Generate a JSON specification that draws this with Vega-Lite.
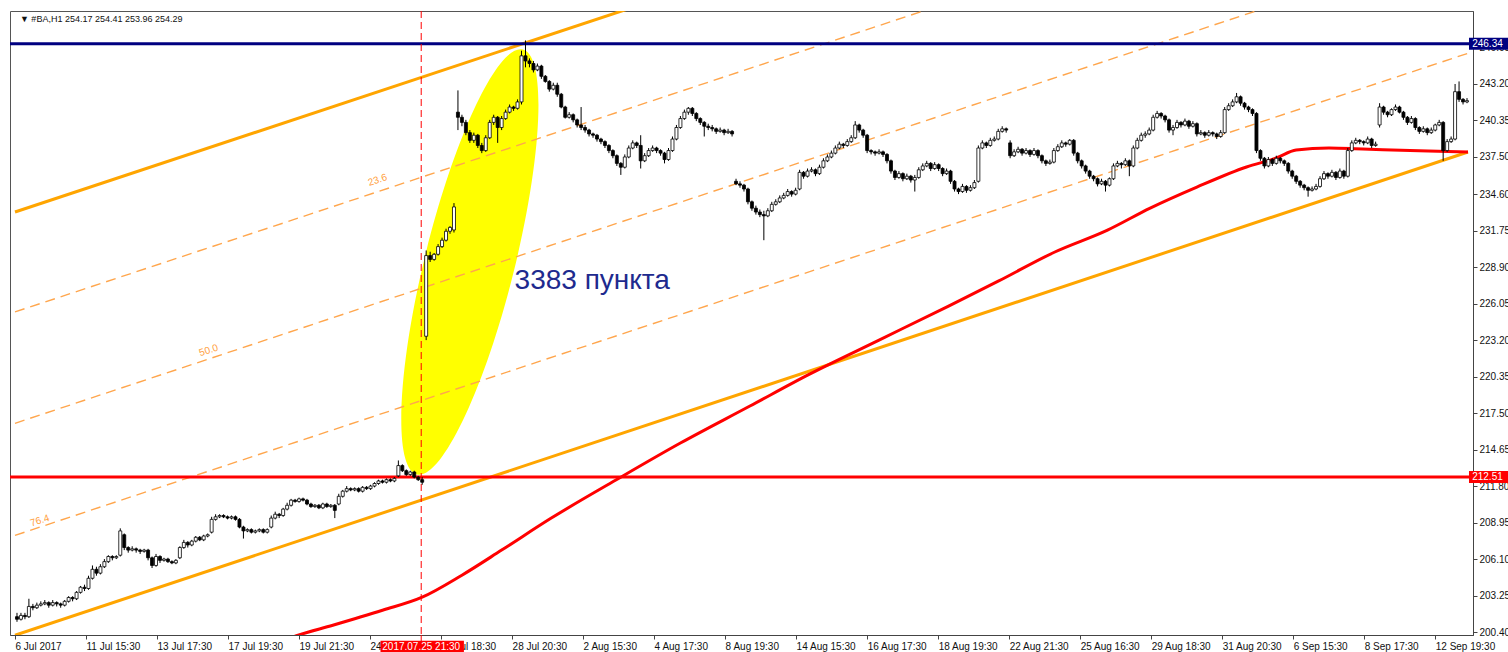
{
"$schema": "https://vega.github.io/schema/vega-lite/v6.json",
"width": 1463, "height": 624,
"autosize": {"type": "none"},
"padding": {"left": 10, "top": 11, "right": 35, "bottom": 17},
"background": "white",
"config": {"view": {"stroke": "#555", "strokeWidth": 1}, "axis": {"grid": false, "labelFont": "Liberation Sans", "labelFontSize": 10, "labelColor": "#111", "domainColor": "#444", "tickColor": "#444", "labelOverlap": false, "labelSeparation": 0}},
"datasets": {
"ellipse": [{"i": 114, "p": 229.3}],
"fib": [{"level": "23.6", "i": -0.5, "p": 225.4}, {"level": "23.6", "i": 365.25, "p": 263.0}, {"level": "50.0", "i": -0.5, "p": 216.7}, {"level": "50.0", "i": 365.25, "p": 254.4}, {"level": "76.4", "i": -0.5, "p": 207.95}, {"level": "76.4", "i": 365.25, "p": 245.6}],
"chan": [{"level": "0", "i": -0.5, "p": 233.2}, {"level": "0", "i": 365.25, "p": 270.8}, {"level": "100", "i": -0.5, "p": 200.15}, {"level": "100", "i": 365.25, "p": 237.89}],
"fibLabels": [{"t": "23.6", "i": 90.75, "p": 235.7}, {"t": "50.0", "i": 48.25, "p": 222.4}, {"t": "76.4", "i": 5.75, "p": 209.1}],
"ma": [{"i": 67, "p": 199.76}, {"i": 70.75, "p": 200.15}, {"i": 79.5, "p": 200.93}, {"i": 92, "p": 202.1}, {"i": 102, "p": 203.12}, {"i": 112, "p": 204.84}, {"i": 122, "p": 206.8}, {"i": 134.5, "p": 209.3}, {"i": 150.75, "p": 212.27}, {"i": 167, "p": 215.16}, {"i": 184.5, "p": 218.05}, {"i": 199.5, "p": 220.54}, {"i": 217, "p": 223.2}, {"i": 234.5, "p": 225.86}, {"i": 247, "p": 227.8}, {"i": 261.25, "p": 230.08}, {"i": 274.5, "p": 231.79}, {"i": 285.25, "p": 233.51}, {"i": 297, "p": 235.15}, {"i": 309.5, "p": 236.72}, {"i": 317, "p": 237.42}, {"i": 322, "p": 238.04}, {"i": 330.25, "p": 238.2}, {"i": 338.75, "p": 238.12}, {"i": 355.25, "p": 237.97}, {"i": 365.25, "p": 237.89}],
"levels": [{"p": 246.34, "t": "246.34", "kind": "high"}, {"p": 212.51, "t": "212.51", "kind": "low"}],
"event": [{"i": 101.75, "t": "2017.07.25 21:30"}],
"note": [{"i": 125.25, "p": 227.18, "t": "3383 пункта"}],
"head": [{"i": 0.75, "p": 248.04, "t": "▼ #BA,H1  254.17 254.41 253.96 254.29"}],
"candles": [
{"i":0,"o":201.6,"h":201.9,"l":201.2,"c":201.4},{"i":1,"o":201.4,"h":201.9,"l":201.3,"c":201.7},{"i":2,"o":201.7,"h":201.9,"l":201.4,"c":201.6},{"i":3,"o":201.6,"h":203.0,"l":201.5,"c":202.4},{"i":4,"o":202.4,"h":202.6,"l":202.1,"c":202.3},{"i":5,"o":202.3,"h":202.7,"l":202.2,"c":202.5},{"i":6,"o":202.5,"h":202.8,"l":202.4,"c":202.6},{"i":7,"o":202.6,"h":202.9,"l":202.5,"c":202.7},{"i":8,"o":202.7,"h":202.8,"l":202.3,"c":202.5},{"i":9,"o":202.5,"h":202.9,"l":202.4,"c":202.7},
{"i":10,"o":202.7,"h":202.8,"l":202.4,"c":202.6},{"i":11,"o":202.6,"h":202.7,"l":202.3,"c":202.5},{"i":12,"o":202.5,"h":202.9,"l":202.4,"c":202.8},{"i":13,"o":202.8,"h":203.2,"l":202.7,"c":203.1},{"i":14,"o":203.1,"h":203.2,"l":202.8,"c":203.0},{"i":15,"o":203.0,"h":203.6,"l":202.9,"c":203.5},{"i":16,"o":203.5,"h":204.0,"l":203.4,"c":203.9},{"i":17,"o":203.9,"h":204.1,"l":203.6,"c":203.8},{"i":18,"o":203.8,"h":204.8,"l":203.7,"c":204.6},{"i":19,"o":204.6,"h":205.6,"l":204.5,"c":205.3},
{"i":20,"o":205.3,"h":205.5,"l":204.8,"c":205.0},{"i":21,"o":205.0,"h":205.7,"l":204.9,"c":205.5},{"i":22,"o":205.5,"h":206.1,"l":205.4,"c":205.9},{"i":23,"o":205.9,"h":206.4,"l":205.8,"c":206.3},{"i":24,"o":206.3,"h":206.4,"l":206.0,"c":206.2},{"i":25,"o":206.2,"h":206.4,"l":206.1,"c":206.3},{"i":26,"o":206.4,"h":208.5,"l":206.3,"c":208.3},{"i":27,"o":208.0,"h":208.1,"l":206.8,"c":207.0},{"i":28,"o":207.0,"h":207.1,"l":206.6,"c":206.8},{"i":29,"o":206.8,"h":207.1,"l":206.7,"c":206.9},
{"i":30,"o":206.9,"h":207.0,"l":206.6,"c":206.8},{"i":31,"o":206.8,"h":206.9,"l":206.5,"c":206.7},{"i":32,"o":206.7,"h":206.9,"l":206.6,"c":206.8},{"i":33,"o":206.8,"h":206.9,"l":206.0,"c":206.2},{"i":34,"o":206.2,"h":206.3,"l":205.4,"c":205.6},{"i":35,"o":205.6,"h":206.5,"l":205.5,"c":206.3},{"i":36,"o":206.3,"h":206.4,"l":205.8,"c":206.0},{"i":37,"o":206.0,"h":206.2,"l":205.9,"c":206.1},{"i":38,"o":206.1,"h":206.2,"l":205.8,"c":205.9},{"i":39,"o":205.9,"h":206.0,"l":205.7,"c":205.8},
{"i":40,"o":205.8,"h":206.1,"l":205.7,"c":206.0},{"i":41,"o":206.2,"h":207.1,"l":206.1,"c":207.0},{"i":42,"o":207.0,"h":207.6,"l":206.9,"c":207.4},{"i":43,"o":207.4,"h":207.5,"l":207.0,"c":207.2},{"i":44,"o":207.2,"h":207.6,"l":207.1,"c":207.5},{"i":45,"o":207.5,"h":207.9,"l":207.4,"c":207.8},{"i":46,"o":207.8,"h":207.9,"l":207.5,"c":207.6},{"i":47,"o":207.6,"h":208.0,"l":207.5,"c":207.9},{"i":48,"o":207.9,"h":208.1,"l":207.8,"c":208.0},{"i":49,"o":208.2,"h":209.4,"l":208.1,"c":209.2},
{"i":50,"o":209.2,"h":209.6,"l":209.1,"c":209.4},{"i":51,"o":209.4,"h":209.6,"l":209.3,"c":209.5},{"i":52,"o":209.5,"h":209.6,"l":209.3,"c":209.4},{"i":53,"o":209.4,"h":209.5,"l":209.2,"c":209.3},{"i":54,"o":209.3,"h":209.5,"l":209.2,"c":209.4},{"i":55,"o":209.4,"h":209.5,"l":209.1,"c":209.2},{"i":56,"o":209.2,"h":209.3,"l":208.5,"c":208.6},{"i":57,"o":208.6,"h":208.7,"l":207.7,"c":208.3},{"i":58,"o":208.3,"h":208.5,"l":208.2,"c":208.4},{"i":59,"o":208.4,"h":208.5,"l":208.1,"c":208.2},
{"i":60,"o":208.2,"h":208.4,"l":208.1,"c":208.3},{"i":61,"o":208.3,"h":208.5,"l":208.2,"c":208.4},{"i":62,"o":208.4,"h":208.5,"l":208.1,"c":208.2},{"i":63,"o":208.2,"h":208.5,"l":208.1,"c":208.4},{"i":64,"o":208.6,"h":209.5,"l":208.5,"c":209.3},{"i":65,"o":209.3,"h":209.8,"l":209.2,"c":209.6},{"i":66,"o":209.6,"h":209.7,"l":209.3,"c":209.5},{"i":67,"o":209.5,"h":210.1,"l":209.4,"c":210.0},{"i":68,"o":210.0,"h":210.5,"l":209.9,"c":210.3},{"i":69,"o":210.3,"h":210.8,"l":210.2,"c":210.7},
{"i":70,"o":210.7,"h":210.8,"l":210.5,"c":210.6},{"i":71,"o":210.6,"h":210.9,"l":210.5,"c":210.8},{"i":72,"o":210.8,"h":210.9,"l":210.6,"c":210.7},{"i":73,"o":210.7,"h":210.8,"l":210.3,"c":210.4},{"i":74,"o":210.4,"h":210.5,"l":210.1,"c":210.2},{"i":75,"o":210.2,"h":210.4,"l":210.1,"c":210.3},{"i":76,"o":210.3,"h":210.4,"l":210.0,"c":210.1},{"i":77,"o":210.1,"h":210.5,"l":210.0,"c":210.4},{"i":78,"o":210.4,"h":210.5,"l":210.1,"c":210.2},{"i":79,"o":210.2,"h":210.4,"l":210.1,"c":210.3},
{"i":80,"o":210.3,"h":210.4,"l":209.3,"c":209.9},{"i":81,"o":210.4,"h":211.2,"l":210.3,"c":211.0},{"i":82,"o":211.0,"h":211.5,"l":210.9,"c":211.4},{"i":83,"o":211.4,"h":211.8,"l":211.3,"c":211.6},{"i":84,"o":211.6,"h":211.7,"l":211.4,"c":211.5},{"i":85,"o":211.5,"h":211.7,"l":211.4,"c":211.6},{"i":86,"o":211.6,"h":211.7,"l":211.3,"c":211.4},{"i":87,"o":211.4,"h":211.8,"l":211.3,"c":211.7},{"i":88,"o":211.7,"h":211.8,"l":211.5,"c":211.6},{"i":89,"o":211.6,"h":211.9,"l":211.5,"c":211.8},
{"i":90,"o":211.8,"h":212.1,"l":211.7,"c":212.0},{"i":91,"o":212.0,"h":212.3,"l":211.9,"c":212.2},{"i":92,"o":212.2,"h":212.3,"l":212.0,"c":212.1},{"i":93,"o":212.1,"h":212.4,"l":212.0,"c":212.3},{"i":94,"o":212.3,"h":212.4,"l":212.1,"c":212.2},{"i":95,"o":212.2,"h":212.5,"l":212.1,"c":212.4},{"i":96,"o":212.6,"h":213.8,"l":212.5,"c":213.4},{"i":97,"o":213.4,"h":213.5,"l":212.9,"c":213.0},{"i":98,"o":213.0,"h":213.1,"l":212.6,"c":212.7},{"i":99,"o":212.7,"h":213.0,"l":212.6,"c":212.9},
{"i":100,"o":212.9,"h":213.0,"l":212.4,"c":212.5},{"i":101,"o":212.5,"h":212.6,"l":212.2,"c":212.3},{"i":102,"o":212.3,"h":212.5,"l":211.9,"c":212.1},{"i":103,"o":223.5,"h":230.2,"l":223.2,"c":229.8},{"i":104,"o":229.8,"h":230.1,"l":229.3,"c":229.5},{"i":105,"o":229.5,"h":230.0,"l":229.4,"c":229.9},{"i":106,"o":229.9,"h":230.7,"l":229.8,"c":230.5},{"i":107,"o":230.5,"h":231.2,"l":230.4,"c":231.0},{"i":108,"o":231.0,"h":231.9,"l":230.9,"c":231.7},{"i":109,"o":231.7,"h":232.1,"l":231.5,"c":232.0},
{"i":110,"o":231.8,"h":233.9,"l":231.6,"c":233.6},{"i":111,"o":241.0,"h":242.7,"l":239.6,"c":240.6},{"i":112,"o":240.6,"h":240.8,"l":239.9,"c":240.2},{"i":113,"o":240.2,"h":240.4,"l":239.2,"c":239.4},{"i":114,"o":239.4,"h":239.6,"l":238.6,"c":238.8},{"i":115,"o":238.8,"h":239.4,"l":238.6,"c":239.2},{"i":116,"o":239.2,"h":239.3,"l":238.2,"c":238.4},{"i":117,"o":238.4,"h":238.6,"l":237.8,"c":238.0},{"i":118,"o":238.0,"h":239.2,"l":237.9,"c":239.0},{"i":119,"o":239.0,"h":240.4,"l":238.9,"c":240.2},
{"i":120,"o":240.2,"h":240.8,"l":240.0,"c":240.6},{"i":121,"o":240.6,"h":240.7,"l":238.6,"c":239.8},{"i":122,"o":239.8,"h":240.7,"l":239.6,"c":240.5},{"i":123,"o":240.5,"h":241.2,"l":240.4,"c":241.0},{"i":124,"o":241.0,"h":241.6,"l":240.9,"c":241.4},{"i":125,"o":241.4,"h":241.5,"l":241.1,"c":241.3},{"i":126,"o":241.3,"h":242.0,"l":241.2,"c":241.8},{"i":127,"o":241.8,"h":245.8,"l":241.6,"c":245.4},{"i":128,"o":245.4,"h":246.6,"l":244.5,"c":245.0},{"i":129,"o":245.0,"h":245.2,"l":244.5,"c":244.8},
{"i":130,"o":244.8,"h":245.0,"l":244.1,"c":244.3},{"i":131,"o":244.3,"h":244.8,"l":244.2,"c":244.6},{"i":132,"o":244.6,"h":244.7,"l":243.6,"c":243.8},{"i":133,"o":243.8,"h":243.9,"l":243.3,"c":243.4},{"i":134,"o":243.4,"h":243.5,"l":242.6,"c":242.8},{"i":135,"o":242.8,"h":243.3,"l":242.7,"c":243.1},{"i":136,"o":243.1,"h":243.3,"l":242.2,"c":242.4},{"i":137,"o":242.4,"h":242.5,"l":241.3,"c":241.4},{"i":138,"o":241.4,"h":241.5,"l":240.5,"c":240.6},{"i":139,"o":240.6,"h":241.0,"l":240.5,"c":240.8},
{"i":140,"o":240.8,"h":240.9,"l":240.2,"c":240.4},{"i":141,"o":240.4,"h":240.5,"l":239.8,"c":240.0},{"i":142,"o":240.0,"h":241.4,"l":239.6,"c":239.8},{"i":143,"o":239.8,"h":240.0,"l":239.4,"c":239.6},{"i":144,"o":239.6,"h":239.7,"l":239.1,"c":239.3},{"i":145,"o":239.3,"h":239.4,"l":239.0,"c":239.2},{"i":146,"o":239.2,"h":239.3,"l":238.7,"c":238.9},{"i":147,"o":238.9,"h":239.0,"l":238.5,"c":238.7},{"i":148,"o":238.7,"h":238.8,"l":238.2,"c":238.4},{"i":149,"o":238.4,"h":238.5,"l":237.8,"c":238.0},
{"i":150,"o":238.0,"h":238.1,"l":237.4,"c":237.6},{"i":151,"o":237.6,"h":237.7,"l":236.8,"c":237.0},{"i":152,"o":237.0,"h":237.1,"l":236.1,"c":236.7},{"i":153,"o":236.7,"h":237.7,"l":236.6,"c":237.5},{"i":154,"o":237.5,"h":238.4,"l":237.4,"c":238.2},{"i":155,"o":238.2,"h":238.8,"l":238.1,"c":238.6},{"i":156,"o":238.6,"h":238.7,"l":238.2,"c":238.4},{"i":157,"o":238.4,"h":239.2,"l":236.6,"c":237.2},{"i":158,"o":237.2,"h":237.8,"l":237.1,"c":237.6},{"i":159,"o":237.6,"h":238.2,"l":237.5,"c":238.0},
{"i":160,"o":238.0,"h":238.4,"l":237.9,"c":238.2},{"i":161,"o":238.2,"h":238.3,"l":237.8,"c":238.0},{"i":162,"o":238.0,"h":238.1,"l":237.6,"c":237.8},{"i":163,"o":237.8,"h":237.9,"l":237.0,"c":237.3},{"i":164,"o":237.3,"h":238.2,"l":237.2,"c":238.0},{"i":165,"o":238.0,"h":239.1,"l":237.9,"c":238.9},{"i":166,"o":238.9,"h":240.0,"l":238.8,"c":239.8},{"i":167,"o":239.8,"h":240.7,"l":239.7,"c":240.5},{"i":168,"o":240.5,"h":241.2,"l":240.4,"c":241.0},{"i":169,"o":241.0,"h":241.4,"l":240.8,"c":241.3},
{"i":170,"o":241.3,"h":241.4,"l":240.7,"c":240.9},{"i":171,"o":240.9,"h":241.0,"l":240.3,"c":240.5},{"i":172,"o":240.5,"h":240.6,"l":240.0,"c":240.2},{"i":173,"o":240.2,"h":240.3,"l":239.1,"c":239.9},{"i":174,"o":239.9,"h":240.1,"l":239.6,"c":239.8},{"i":175,"o":239.8,"h":240.0,"l":239.5,"c":239.7},{"i":176,"o":239.7,"h":239.8,"l":239.3,"c":239.5},{"i":177,"o":239.5,"h":239.8,"l":239.4,"c":239.6},{"i":178,"o":239.6,"h":239.7,"l":239.2,"c":239.4},{"i":179,"o":239.4,"h":239.7,"l":239.3,"c":239.5},
{"i":180,"o":239.5,"h":239.6,"l":239.1,"c":239.3},{"i":181,"o":235.6,"h":235.8,"l":235.3,"c":235.4},{"i":182,"o":235.4,"h":235.6,"l":235.1,"c":235.3},{"i":183,"o":235.3,"h":235.4,"l":234.8,"c":235.0},{"i":184,"o":235.0,"h":235.1,"l":233.8,"c":234.0},{"i":185,"o":234.0,"h":234.1,"l":233.3,"c":233.5},{"i":186,"o":233.5,"h":233.7,"l":233.0,"c":233.2},{"i":187,"o":233.2,"h":233.4,"l":232.8,"c":233.0},{"i":188,"o":233.0,"h":233.3,"l":231.0,"c":232.9},{"i":189,"o":232.9,"h":233.5,"l":232.8,"c":233.3},
{"i":190,"o":233.3,"h":234.0,"l":233.2,"c":233.8},{"i":191,"o":233.8,"h":234.2,"l":233.7,"c":234.0},{"i":192,"o":234.0,"h":234.5,"l":233.9,"c":234.3},{"i":193,"o":234.3,"h":234.7,"l":234.2,"c":234.5},{"i":194,"o":234.5,"h":235.0,"l":234.4,"c":234.8},{"i":195,"o":234.8,"h":234.9,"l":234.4,"c":234.6},{"i":196,"o":234.6,"h":235.1,"l":234.5,"c":234.9},{"i":197,"o":235.0,"h":236.5,"l":234.9,"c":236.3},{"i":198,"o":236.3,"h":236.4,"l":235.8,"c":236.0},{"i":199,"o":236.0,"h":236.6,"l":235.9,"c":236.4},
{"i":200,"o":236.4,"h":236.7,"l":236.3,"c":236.5},{"i":201,"o":236.5,"h":236.6,"l":236.0,"c":236.2},{"i":202,"o":236.2,"h":236.9,"l":236.1,"c":236.7},{"i":203,"o":236.7,"h":237.4,"l":236.6,"c":237.2},{"i":204,"o":237.2,"h":237.7,"l":237.1,"c":237.5},{"i":205,"o":237.5,"h":238.0,"l":237.4,"c":237.8},{"i":206,"o":237.8,"h":238.4,"l":237.7,"c":238.2},{"i":207,"o":238.2,"h":238.7,"l":238.1,"c":238.5},{"i":208,"o":238.5,"h":238.6,"l":238.2,"c":238.4},{"i":209,"o":238.4,"h":238.9,"l":238.3,"c":238.7},
{"i":210,"o":238.7,"h":239.2,"l":238.6,"c":239.0},{"i":211,"o":239.0,"h":240.3,"l":238.9,"c":240.0},{"i":212,"o":240.0,"h":240.1,"l":239.4,"c":239.6},{"i":213,"o":239.6,"h":239.7,"l":239.0,"c":239.2},{"i":214,"o":239.2,"h":239.3,"l":237.8,"c":238.0},{"i":215,"o":238.0,"h":238.1,"l":237.7,"c":237.9},{"i":216,"o":237.9,"h":238.0,"l":237.6,"c":237.8},{"i":217,"o":237.8,"h":238.1,"l":237.7,"c":237.9},{"i":218,"o":237.9,"h":238.0,"l":237.5,"c":237.7},{"i":219,"o":237.7,"h":237.8,"l":237.0,"c":237.2},
{"i":220,"o":237.2,"h":237.3,"l":236.2,"c":236.4},{"i":221,"o":236.4,"h":236.5,"l":235.7,"c":235.9},{"i":222,"o":235.9,"h":236.4,"l":235.8,"c":236.2},{"i":223,"o":236.2,"h":236.3,"l":235.6,"c":235.8},{"i":224,"o":235.8,"h":236.2,"l":235.7,"c":236.0},{"i":225,"o":236.0,"h":236.1,"l":235.5,"c":235.7},{"i":226,"o":235.7,"h":236.1,"l":234.8,"c":235.9},{"i":227,"o":235.9,"h":236.7,"l":235.8,"c":236.5},{"i":228,"o":236.5,"h":237.0,"l":236.4,"c":236.8},{"i":229,"o":236.8,"h":237.2,"l":236.7,"c":237.0},
{"i":230,"o":237.0,"h":237.1,"l":236.4,"c":236.6},{"i":231,"o":236.6,"h":237.1,"l":236.5,"c":236.9},{"i":232,"o":236.9,"h":237.0,"l":236.4,"c":236.6},{"i":233,"o":236.6,"h":236.7,"l":236.0,"c":236.2},{"i":234,"o":236.2,"h":236.6,"l":236.1,"c":236.4},{"i":235,"o":236.4,"h":236.5,"l":235.4,"c":235.6},{"i":236,"o":235.6,"h":235.7,"l":234.8,"c":235.0},{"i":237,"o":235.0,"h":235.1,"l":234.6,"c":234.8},{"i":238,"o":234.8,"h":235.4,"l":234.7,"c":235.2},{"i":239,"o":235.2,"h":235.3,"l":234.7,"c":234.9},
{"i":240,"o":234.9,"h":235.3,"l":234.8,"c":235.1},{"i":241,"o":235.1,"h":235.7,"l":235.0,"c":235.5},{"i":242,"o":235.6,"h":238.4,"l":235.5,"c":238.2},{"i":243,"o":238.2,"h":238.8,"l":238.1,"c":238.6},{"i":244,"o":238.6,"h":238.7,"l":238.2,"c":238.4},{"i":245,"o":238.4,"h":239.0,"l":238.3,"c":238.8},{"i":246,"o":238.8,"h":239.1,"l":238.7,"c":238.9},{"i":247,"o":238.9,"h":239.7,"l":238.8,"c":239.5},{"i":248,"o":239.5,"h":239.9,"l":239.4,"c":239.7},{"i":249,"o":239.7,"h":239.8,"l":239.4,"c":239.6},
{"i":250,"o":238.6,"h":238.8,"l":237.4,"c":237.6},{"i":251,"o":237.6,"h":238.1,"l":237.5,"c":237.9},{"i":252,"o":237.9,"h":238.3,"l":237.8,"c":238.1},{"i":253,"o":238.1,"h":238.2,"l":237.6,"c":237.8},{"i":254,"o":237.8,"h":238.2,"l":237.7,"c":238.0},{"i":255,"o":238.0,"h":238.1,"l":237.5,"c":237.7},{"i":256,"o":237.7,"h":238.2,"l":237.6,"c":238.0},{"i":257,"o":238.0,"h":238.1,"l":237.4,"c":237.6},{"i":258,"o":237.6,"h":237.7,"l":237.0,"c":237.2},{"i":259,"o":237.2,"h":237.3,"l":236.8,"c":237.0},
{"i":260,"o":237.0,"h":237.3,"l":236.9,"c":237.1},{"i":261,"o":237.1,"h":238.2,"l":237.0,"c":238.0},{"i":262,"o":238.0,"h":238.5,"l":237.9,"c":238.3},{"i":263,"o":238.3,"h":238.8,"l":238.2,"c":238.6},{"i":264,"o":238.6,"h":238.7,"l":238.3,"c":238.5},{"i":265,"o":238.5,"h":238.9,"l":238.4,"c":238.8},{"i":266,"o":238.8,"h":238.9,"l":237.6,"c":237.8},{"i":267,"o":237.8,"h":237.9,"l":237.0,"c":237.2},{"i":268,"o":237.2,"h":237.3,"l":236.6,"c":236.8},{"i":269,"o":236.8,"h":236.9,"l":236.2,"c":236.4},
{"i":270,"o":236.4,"h":236.5,"l":235.8,"c":236.0},{"i":271,"o":236.0,"h":236.1,"l":235.6,"c":235.8},{"i":272,"o":235.8,"h":235.9,"l":235.2,"c":235.4},{"i":273,"o":235.4,"h":235.8,"l":235.3,"c":235.6},{"i":274,"o":235.6,"h":235.7,"l":234.8,"c":235.3},{"i":275,"o":235.3,"h":235.9,"l":235.2,"c":235.8},{"i":276,"o":235.8,"h":237.0,"l":235.7,"c":236.8},{"i":277,"o":236.8,"h":237.2,"l":236.7,"c":237.0},{"i":278,"o":237.0,"h":237.1,"l":236.6,"c":236.9},{"i":279,"o":236.9,"h":237.4,"l":236.8,"c":237.2},
{"i":280,"o":237.2,"h":237.3,"l":236.0,"c":236.8},{"i":281,"o":236.8,"h":238.4,"l":236.7,"c":238.2},{"i":282,"o":238.2,"h":239.0,"l":238.1,"c":238.8},{"i":283,"o":238.8,"h":239.4,"l":238.7,"c":239.2},{"i":284,"o":239.2,"h":239.5,"l":239.0,"c":239.3},{"i":285,"o":239.3,"h":239.8,"l":239.2,"c":239.6},{"i":286,"o":239.6,"h":240.8,"l":239.5,"c":240.6},{"i":287,"o":240.6,"h":241.1,"l":240.5,"c":240.9},{"i":288,"o":240.9,"h":241.0,"l":240.5,"c":240.7},{"i":289,"o":240.7,"h":240.8,"l":240.2,"c":240.4},
{"i":290,"o":240.4,"h":240.5,"l":239.4,"c":239.6},{"i":291,"o":239.6,"h":240.0,"l":239.2,"c":239.8},{"i":292,"o":239.8,"h":240.4,"l":239.7,"c":240.2},{"i":293,"o":240.2,"h":240.3,"l":239.8,"c":240.0},{"i":294,"o":240.0,"h":240.5,"l":239.9,"c":240.3},{"i":295,"o":240.3,"h":240.4,"l":239.7,"c":239.9},{"i":296,"o":239.9,"h":240.3,"l":239.8,"c":240.1},{"i":297,"o":240.1,"h":240.2,"l":239.1,"c":239.3},{"i":298,"o":239.3,"h":239.6,"l":239.2,"c":239.4},{"i":299,"o":239.4,"h":239.5,"l":239.0,"c":239.2},
{"i":300,"o":239.2,"h":239.6,"l":239.1,"c":239.4},{"i":301,"o":239.4,"h":239.5,"l":239.1,"c":239.3},{"i":302,"o":239.3,"h":239.4,"l":238.9,"c":239.1},{"i":303,"o":239.1,"h":239.6,"l":239.0,"c":239.4},{"i":304,"o":239.4,"h":241.4,"l":239.3,"c":241.2},{"i":305,"o":241.2,"h":241.7,"l":241.1,"c":241.5},{"i":306,"o":241.5,"h":242.0,"l":241.4,"c":241.8},{"i":307,"o":241.8,"h":242.5,"l":241.7,"c":242.2},{"i":308,"o":242.2,"h":242.3,"l":241.5,"c":241.7},{"i":309,"o":241.7,"h":241.8,"l":241.2,"c":241.4},
{"i":310,"o":241.4,"h":241.5,"l":241.0,"c":241.2},{"i":311,"o":241.2,"h":241.3,"l":240.7,"c":240.9},{"i":312,"o":240.9,"h":241.0,"l":237.8,"c":238.0},{"i":313,"o":238.0,"h":238.1,"l":237.2,"c":237.4},{"i":314,"o":237.4,"h":237.5,"l":236.6,"c":236.8},{"i":315,"o":236.8,"h":237.5,"l":236.7,"c":237.3},{"i":316,"o":237.3,"h":237.4,"l":236.8,"c":237.0},{"i":317,"o":237.0,"h":237.6,"l":236.9,"c":237.4},{"i":318,"o":237.4,"h":237.5,"l":237.0,"c":237.2},{"i":319,"o":237.2,"h":237.3,"l":236.8,"c":237.0},
{"i":320,"o":237.0,"h":237.1,"l":236.2,"c":236.4},{"i":321,"o":236.4,"h":236.5,"l":235.8,"c":236.0},{"i":322,"o":236.0,"h":236.1,"l":235.4,"c":235.6},{"i":323,"o":235.6,"h":235.7,"l":235.1,"c":235.3},{"i":324,"o":235.3,"h":235.4,"l":234.9,"c":235.1},{"i":325,"o":235.1,"h":235.2,"l":234.4,"c":234.9},{"i":326,"o":234.9,"h":235.2,"l":234.8,"c":235.0},{"i":327,"o":235.0,"h":235.4,"l":234.9,"c":235.2},{"i":328,"o":235.2,"h":236.0,"l":235.1,"c":235.8},{"i":329,"o":235.8,"h":236.4,"l":235.7,"c":236.2},
{"i":330,"o":236.2,"h":236.3,"l":235.8,"c":236.0},{"i":331,"o":236.0,"h":236.5,"l":235.9,"c":236.3},{"i":332,"o":236.3,"h":236.4,"l":235.7,"c":235.9},{"i":333,"o":235.9,"h":236.6,"l":235.8,"c":236.4},{"i":334,"o":236.4,"h":236.5,"l":235.8,"c":236.0},{"i":335,"o":236.0,"h":238.2,"l":235.9,"c":238.0},{"i":336,"o":238.0,"h":238.8,"l":237.9,"c":238.6},{"i":337,"o":238.6,"h":239.0,"l":238.5,"c":238.8},{"i":338,"o":238.8,"h":238.9,"l":238.5,"c":238.7},{"i":339,"o":238.7,"h":238.8,"l":238.4,"c":238.6},
{"i":340,"o":238.6,"h":239.1,"l":238.5,"c":238.9},{"i":341,"o":238.9,"h":239.0,"l":238.2,"c":238.4},{"i":342,"o":238.4,"h":238.7,"l":238.3,"c":238.5},{"i":343,"o":240.0,"h":241.7,"l":239.8,"c":241.4},{"i":344,"o":241.4,"h":241.5,"l":240.8,"c":241.0},{"i":345,"o":241.0,"h":241.1,"l":240.6,"c":240.8},{"i":346,"o":240.8,"h":241.3,"l":240.7,"c":241.2},{"i":347,"o":241.2,"h":241.6,"l":241.1,"c":241.4},{"i":348,"o":241.4,"h":241.5,"l":240.9,"c":241.0},{"i":349,"o":241.0,"h":241.1,"l":240.4,"c":240.6},
{"i":350,"o":240.6,"h":240.7,"l":240.0,"c":240.2},{"i":351,"o":240.2,"h":240.7,"l":240.1,"c":240.5},{"i":352,"o":240.5,"h":240.6,"l":239.6,"c":239.8},{"i":353,"o":239.8,"h":239.9,"l":239.3,"c":239.5},{"i":354,"o":239.5,"h":239.9,"l":239.4,"c":239.7},{"i":355,"o":239.7,"h":239.8,"l":239.2,"c":239.4},{"i":356,"o":239.4,"h":239.8,"l":239.3,"c":239.6},{"i":357,"o":239.6,"h":240.1,"l":239.5,"c":240.0},{"i":358,"o":240.0,"h":240.4,"l":239.9,"c":240.2},{"i":359,"o":240.2,"h":240.3,"l":237.2,"c":238.0},
{"i":360,"o":238.0,"h":238.9,"l":237.9,"c":238.7},{"i":361,"o":238.7,"h":239.1,"l":238.6,"c":238.9},{"i":362,"o":238.9,"h":243.2,"l":238.8,"c":242.6},{"i":363,"o":242.6,"h":243.4,"l":241.8,"c":242.0},{"i":364,"o":242.0,"h":242.1,"l":241.6,"c":241.8},{"i":365,"o":241.8,"h":242.1,"l":241.7,"c":241.9}
]
},
"layer": [
{"data": {"name": "ellipse"},
 "mark": {"type": "point", "shape": "M0,-1A0.205,1,0,1,1,0,1A0.205,1,0,1,1,0,-1Z", "size": 191844, "angle": 14, "filled": true, "color": "#FFFF00", "opacity": 1, "strokeWidth": 0, "clip": true},
 "encoding": {
  "x": {"field": "i", "type": "quantitative", "title": null, "scale": {"domain": [-0.5, 365.25], "nice": false, "zero": false},
   "axis": {"title": null, "orient": "bottom", "tickCount": 60, "values": [-0.5, 17.375, 35.25, 53.125, 71, 88.875, 106.75, 124.625, 142.5, 160.375, 178.25, 196.125, 214, 231.875, 249.75, 267.625, 285.5, 303.375, 321.25, 339.125, 357],
    "labelExpr": "['6 Jul 2017','11 Jul 15:30','13 Jul 17:30','17 Jul 19:30','19 Jul 21:30','24 Jul 23:30','26 Jul 18:30','28 Jul 20:30','2 Aug 15:30','4 Aug 17:30','8 Aug 19:30','14 Aug 15:30','16 Aug 17:30','18 Aug 19:30','22 Aug 21:30','25 Aug 16:30','29 Aug 18:30','31 Aug 20:30','6 Sep 15:30','8 Sep 17:30','12 Sep 19:30'][round((datum.value+0.5)/17.875)]",
    "labelAlign": "left", "labelBaseline": "top", "labelPadding": 2, "tickSize": 4, "labelOverlap": false, "labelBound": false, "labelFlush": false}},
  "y": {"field": "p", "type": "quantitative", "title": null, "scale": {"domain": [200.17, 248.9], "nice": false, "zero": false},
   "axis": {"title": null, "orient": "right", "tickCount": 40, "values": [200.40, 203.25, 206.10, 208.95, 211.80, 214.65, 217.50, 220.35, 223.20, 226.05, 228.90, 231.75, 234.60, 237.50, 240.35, 243.20, 246.05], "format": ".2f", "labelPadding": 2, "tickSize": 4, "labelBaseline": "middle", "labelOverlap": false, "labelSeparation": 0, "labelBound": false, "labelFlush": false}}
 }},
{"data": {"name": "fib"},
 "mark": {"type": "line", "color": "#FFA64D", "strokeWidth": 1.4, "strokeDash": [10, 6], "clip": true},
 "encoding": {"x": {"field": "i", "type": "quantitative", "title": null}, "y": {"field": "p", "type": "quantitative", "title": null}, "detail": {"field": "level"}}},
{"data": {"name": "chan"},
 "mark": {"type": "line", "color": "#FFA500", "strokeWidth": 3, "clip": true},
 "encoding": {"x": {"field": "i", "type": "quantitative", "title": null}, "y": {"field": "p", "type": "quantitative", "title": null}, "detail": {"field": "level"}}},
{"data": {"name": "fibLabels"},
 "mark": {"type": "text", "color": "#FFA040", "fontSize": 10, "font": "Liberation Sans", "angle": -18, "align": "center", "baseline": "middle"},
 "encoding": {"x": {"field": "i", "type": "quantitative", "title": null}, "y": {"field": "p", "type": "quantitative", "title": null}, "text": {"field": "t"}}},
{"data": {"name": "ma"},
 "mark": {"type": "line", "color": "#FF0000", "strokeWidth": 3, "interpolate": "monotone", "clip": true},
 "encoding": {"x": {"field": "i", "type": "quantitative", "title": null}, "y": {"field": "p", "type": "quantitative", "title": null}}},
{"data": {"name": "levels"},
 "mark": {"type": "rule", "strokeWidth": 3},
 "encoding": {"y": {"field": "p", "type": "quantitative", "title": null}, "color": {"field": "kind", "type": "nominal", "scale": {"domain": ["high", "low"], "range": ["#000080", "#FF0000"]}, "legend": null}}},
{"data": {"name": "event"},
 "mark": {"type": "rule", "color": "#FF0000", "strokeWidth": 1, "strokeDash": [7, 4]},
 "encoding": {"x": {"field": "i", "type": "quantitative", "title": null}}},
{"data": {"name": "event"},
 "mark": {"type": "rule", "color": "#FF0000", "strokeWidth": 1, "clip": false},
 "encoding": {"x": {"field": "i", "type": "quantitative", "title": null}, "y": {"datum": 200.17, "type": "quantitative", "title": null}, "y2": {"datum": 199.7}}},
{"data": {"name": "candles"},
 "mark": {"type": "rule", "color": "#000000", "strokeWidth": 1},
 "encoding": {"x": {"field": "i", "type": "quantitative", "title": null}, "y": {"field": "l", "type": "quantitative", "title": null}, "y2": {"field": "h"}}},
{"data": {"name": "candles"},
 "mark": {"type": "bar", "width": 3, "stroke": "#000000", "strokeWidth": 0.8},
 "encoding": {"x": {"field": "i", "type": "quantitative", "title": null}, "y": {"field": "o", "type": "quantitative", "title": null}, "y2": {"field": "c"},
  "color": {"condition": {"test": "datum.o < datum.c", "value": "#ffffff"}, "value": "#000000"}}},
{"data": {"name": "note"},
 "mark": {"type": "text", "color": "#1E2A8E", "fontSize": 28, "font": "Liberation Sans", "align": "left", "baseline": "alphabetic"},
 "encoding": {"x": {"field": "i", "type": "quantitative", "title": null}, "y": {"field": "p", "type": "quantitative", "title": null}, "text": {"field": "t"}}},
{"data": {"name": "head"},
 "mark": {"type": "text", "color": "#111111", "fontSize": 9, "font": "Liberation Sans", "align": "left", "baseline": "alphabetic"},
 "encoding": {"x": {"field": "i", "type": "quantitative", "title": null}, "y": {"field": "p", "type": "quantitative", "title": null}, "text": {"field": "t"}}},
{"data": {"name": "levels"},
 "mark": {"type": "rule", "strokeWidth": 12, "strokeCap": "butt", "clip": false},
 "encoding": {"x": {"datum": 365.5, "type": "quantitative", "title": null}, "x2": {"datum": 376}, "y": {"field": "p", "type": "quantitative", "title": null}, "color": {"field": "kind", "type": "nominal", "scale": {"domain": ["high", "low"], "range": ["#000080", "#FF0000"]}, "legend": null}}},
{"data": {"name": "levels"},
 "mark": {"type": "text", "color": "#ffffff", "fontSize": 10, "font": "Liberation Sans", "align": "left", "baseline": "middle"},
 "encoding": {"x": {"datum": 366.3, "type": "quantitative", "title": null}, "y": {"field": "p", "type": "quantitative", "title": null}, "text": {"field": "t"}}},
{"data": {"name": "event"},
 "mark": {"type": "rule", "color": "#FF0000", "strokeWidth": 12, "strokeCap": "butt", "clip": false},
 "encoding": {"x": {"datum": 91.5, "type": "quantitative", "title": null}, "x2": {"datum": 112.5}, "y": {"datum": 199.25, "type": "quantitative", "title": null}}},
{"data": {"name": "event"},
 "mark": {"type": "text", "color": "#ffffff", "fontSize": 10, "font": "Liberation Sans", "align": "center", "baseline": "middle"},
 "encoding": {"x": {"field": "i", "type": "quantitative", "title": null}, "y": {"datum": 199.25, "type": "quantitative", "title": null}, "text": {"field": "t"}}}
]
}
